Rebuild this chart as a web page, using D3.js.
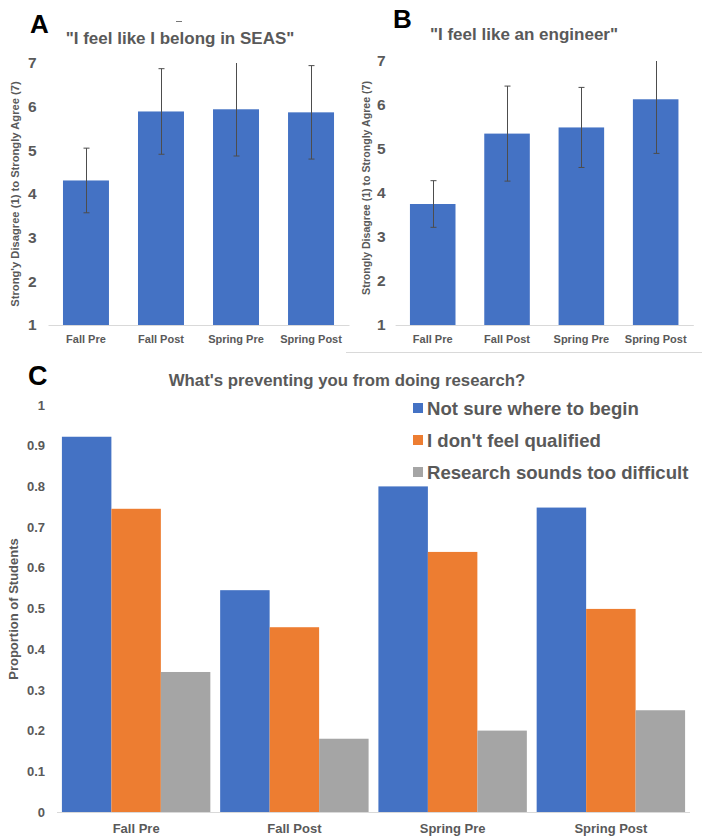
<!DOCTYPE html>
<html><head><meta charset="utf-8">
<script src="https://cdnjs.cloudflare.com/ajax/libs/d3/7.8.5/d3.min.js"></script>
<style>
html,body{margin:0;padding:0;background:#fff;}
svg{display:block;font-family:"Liberation Sans",Arial,sans-serif;}
</style></head>
<body>
<script>
const categories = ["Fall Pre", "Fall Post", "Spring Pre", "Spring Post"];
const belongMean = [4.31, 5.89, 5.94, 5.87];
const belongErr = [0.74, 0.98, 1.07, 1.07];
const engineerMean = [3.75, 5.35, 5.49, 6.13];
const engineerErr = [0.53, 1.08, 0.91, 1.23];
const likertTicks = [1, 2, 3, 4, 5, 6, 7];
const seriesNames = ["Not sure where to begin", "I don't feel qualified", "Research sounds too difficult"];
const notSure = [0.922, 0.545, 0.800, 0.748];
const notQualified = [0.745, 0.454, 0.639, 0.499];
const tooDifficult = [0.344, 0.180, 0.200, 0.250];
const propTicks = [0, 0.1, 0.2, 0.3, 0.4, 0.5, 0.6, 0.7, 0.8, 0.9, 1];
const propTickLabels = ["0", "0.1", "0.2", "0.3", "0.4", "0.5", "0.6", "0.7", "0.8", "0.9", "1"];

const W = 702, H = 839;
const TXT = "#595959", BLUE = "#4472C4", ORANGE = "#ED7D31", GRAY = "#A5A5A5", AXIS = "#D9D9D9";
const svg = d3.select("body").append("svg").attr("width", W).attr("height", H);

function likertPanel(opts) {
  const g = svg.append("g");
  const y = d3.scaleLinear().domain([1, 7]).range([325, opts.top]);
  const x = d3.scaleBand().domain(categories).range(opts.xr).paddingInner(0.387).paddingOuter(0.193);
  g.append("line").attr("x1", opts.xr[0]).attr("x2", opts.xr[1] + 1).attr("y1", 325.5).attr("y2", 325.5)
    .attr("stroke", AXIS).attr("stroke-width", 1);
  const ya = g.append("g").attr("transform", `translate(${opts.xr[0]},0)`)
    .call(d3.axisLeft(y).tickValues(likertTicks).tickSize(0).tickPadding(opts.tp).tickFormat(d3.format("d")));
  ya.select(".domain").remove();
  ya.selectAll("text").attr("font-size", 15.5).attr("font-weight", "bold").attr("fill", TXT)
    .attr("font-family", "Liberation Sans, Arial, sans-serif");
  const xa = g.append("g").attr("transform", "translate(0,325)")
    .call(d3.axisBottom(x).tickSize(0).tickPadding(opts.xp));
  xa.select(".domain").remove();
  xa.selectAll("text").attr("font-size", 11).attr("font-weight", "bold").attr("fill", TXT)
    .attr("font-family", "Liberation Sans, Arial, sans-serif");
  g.selectAll("rect.bar").data(categories).join("rect").attr("class", "bar")
    .attr("x", d => x(d)).attr("width", x.bandwidth())
    .attr("y", (d, i) => y(opts.mean[i])).attr("height", (d, i) => y(1) - y(opts.mean[i]))
    .attr("fill", BLUE);
  categories.forEach((c, i) => {
    const cx = Math.round(x(c) + x.bandwidth() / 2) + 0.5;
    const hiV = opts.mean[i] + opts.err[i], loV = opts.mean[i] - opts.err[i];
    const hi = y(Math.min(7, hiV)), lo = y(loV);
    g.append("line").attr("x1", cx).attr("x2", cx).attr("y1", hi).attr("y2", lo).attr("stroke", "#4d4d4d").attr("stroke-width", 1);
    if (hiV <= 7) g.append("line").attr("x1", cx - 3).attr("x2", cx + 3).attr("y1", hi).attr("y2", hi).attr("stroke", "#4d4d4d");
    g.append("line").attr("x1", cx - 3).attr("x2", cx + 3).attr("y1", lo).attr("y2", lo).attr("stroke", "#4d4d4d");
  });
  g.append("text").attr("x", opts.titleX).attr("y", opts.titleY).attr("text-anchor", "middle")
    .attr("font-size", 17).attr("font-weight", "bold").attr("fill", TXT).text(opts.title);
  g.append("text").attr("transform", `translate(${opts.ylx},${opts.yly}) rotate(-90)`).attr("text-anchor", "middle")
    .attr("font-size", opts.ylfs).attr("font-weight", "bold").attr("fill", TXT).text(opts.ylabel);
  g.append("text").attr("x", opts.lx).attr("y", opts.ly).attr("font-size", 26).attr("font-weight", "bold")
    .attr("fill", "#000").text(opts.letter);
}

likertPanel({ top: 63, xr: [48.5, 348.5], tp: 12, xp: 10, mean: belongMean, err: belongErr,
  title: "\"I feel like I belong in SEAS\"", titleX: 180, titleY: 44,
  ylabel: "Strong'y Disagree (1) to Strongly Agree (7)", ylx: 19, yly: 194, ylfs: 11.2,
  letter: "A", lx: 30, ly: 33 });
likertPanel({ top: 61, xr: [395.6, 692.8], tp: 10, xp: 10, mean: engineerMean, err: engineerErr,
  title: "\"I feel like an engineer\"", titleX: 524, titleY: 40,
  ylabel: "Strongly Disagree (1) to Strongly Agree (7)", ylx: 370, yly: 188, ylfs: 10.6,
  letter: "B", lx: 393, ly: 28 });

svg.append("line").attr("x1", 176).attr("x2", 182).attr("y1", 21.5).attr("y2", 21.5).attr("stroke", "#777");
svg.append("line").attr("x1", 346).attr("x2", 702).attr("y1", 352.5).attr("y2", 352.5).attr("stroke", AXIS);

// Panel C
const gC = svg.append("g");
const yC = d3.scaleLinear().domain([0, 1]).range([812, 405]);
const xC = d3.scaleBand().domain(categories).range([57, 690]).paddingInner(0.062).paddingOuter(0.031);
const xS = d3.scaleBand().domain(seriesNames).range([0, xC.bandwidth()]);
const colorC = d3.scaleOrdinal().domain(seriesNames).range([BLUE, ORANGE, GRAY]);
const seriesVals = [notSure, notQualified, tooDifficult];

gC.append("line").attr("x1", 57).attr("x2", 690).attr("y1", 812.5).attr("y2", 812.5).attr("stroke", AXIS);
const yCa = gC.append("g").attr("transform", "translate(57,0)")
  .call(d3.axisLeft(yC).tickValues(propTicks).tickSize(0).tickPadding(12).tickFormat((d, i) => propTickLabels[i]));
yCa.select(".domain").remove();
yCa.selectAll("text").attr("font-size", 13).attr("font-weight", "bold").attr("fill", TXT)
  .attr("font-family", "Liberation Sans, Arial, sans-serif");
const xCa = gC.append("g").attr("transform", "translate(0,812)")
  .call(d3.axisBottom(xC).tickSize(0).tickPadding(12));
xCa.select(".domain").remove();
xCa.selectAll("text").attr("font-size", 13).attr("font-weight", "bold").attr("fill", TXT)
  .attr("font-family", "Liberation Sans, Arial, sans-serif");

seriesNames.forEach((s, si) => {
  gC.selectAll(null).data(categories).join("rect")
    .attr("x", d => xC(d) + xS(s)).attr("width", xS.bandwidth())
    .attr("y", (d, i) => yC(seriesVals[si][i])).attr("height", (d, i) => yC(0) - yC(seriesVals[si][i]))
    .attr("fill", colorC(s));
});

gC.append("text").attr("x", 347).attr("y", 386).attr("text-anchor", "middle").attr("font-size", 16.8)
  .attr("font-weight", "bold").attr("fill", TXT).text("What's preventing you from doing research?");
gC.append("text").attr("transform", "translate(18,609) rotate(-90)").attr("text-anchor", "middle")
  .attr("font-size", 13).attr("font-weight", "bold").attr("fill", TXT).text("Proportion of Students");
gC.append("text").attr("x", 28).attr("y", 385).attr("font-size", 27).attr("font-weight", "bold").attr("fill", "#000").text("C");

const leg = gC.append("g").attr("transform", "translate(413,408)");
seriesNames.forEach((s, i) => {
  const r = leg.append("g").attr("transform", `translate(0,${i * 32})`);
  r.append("rect").attr("x", 0).attr("y", -5).attr("width", 10).attr("height", 10).attr("fill", colorC(s));
  r.append("text").attr("x", 14).attr("y", 6.5).attr("font-size", 18.6).attr("font-weight", "bold")
    .attr("fill", TXT).text(s);
});
</script>
</body></html>
